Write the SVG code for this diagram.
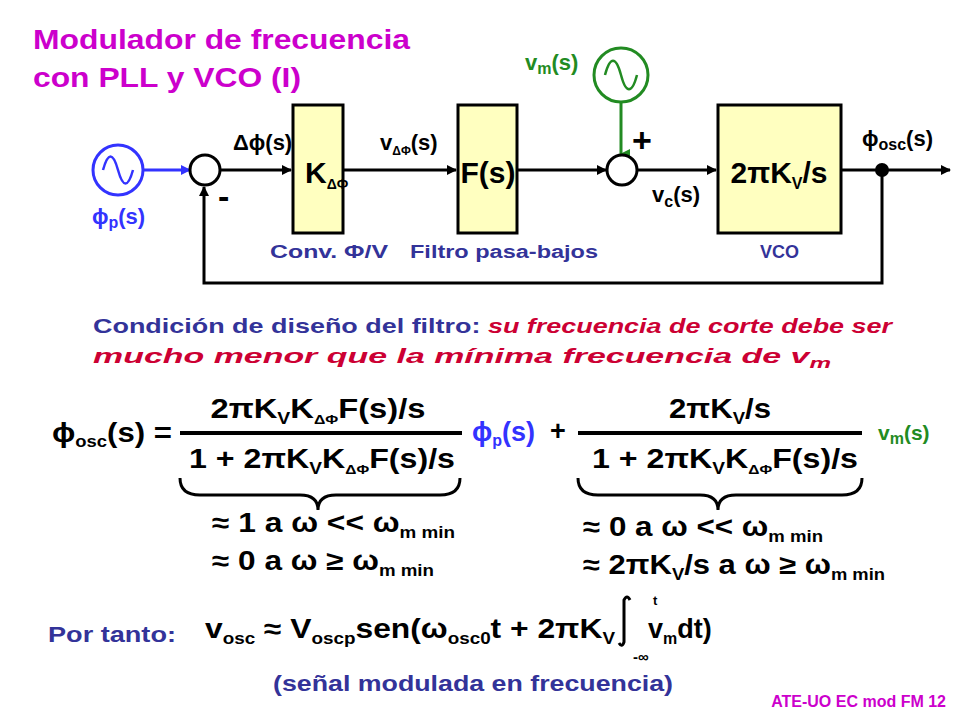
<svg xmlns="http://www.w3.org/2000/svg" width="960" height="720" viewBox="0 0 960 720">
<defs>
<marker id="ah" markerWidth="10" markerHeight="10" refX="9" refY="5" orient="auto" markerUnits="userSpaceOnUse"><path d="M0,0 L10,5 L0,10 z" fill="#000"/></marker>
<marker id="ahb" markerWidth="10" markerHeight="10" refX="9" refY="5" orient="auto" markerUnits="userSpaceOnUse"><path d="M0,0 L10,5 L0,10 z" fill="#3333FF"/></marker>
<marker id="ahg" markerWidth="10" markerHeight="10" refX="5" refY="9" orient="auto" markerUnits="userSpaceOnUse"><path d="M0,0 L10,0 L5,10 z" fill="#228B22"/></marker>
<style>
text{font-family:"Liberation Sans",Arial,sans-serif;font-weight:bold}
.box{fill:#FFFFC0;stroke:#000;stroke-width:3}
.sum{fill:#fff;stroke:#000;stroke-width:3}
.w{stroke:#000;stroke-width:3;fill:none}
.lb{font-size:22px;fill:#000}
.big{font-size:30px}
.cap{font-size:18px;fill:#333399}
.eq{font-size:27px;fill:#000}
.sub{font-size:16px}
.blue{fill:#3333FF}
.green{fill:#228B22}
.navy{fill:#333399}
</style>
</defs>
<rect width="960" height="720" fill="#fff"/>
<g id="title"><text x="33" y="49" font-size="28" fill="#CC00CC" textLength="377" lengthAdjust="spacingAndGlyphs">Modulador de frecuencia</text><text x="33" y="87" font-size="28" fill="#CC00CC" textLength="268" lengthAdjust="spacingAndGlyphs">con PLL y VCO (I)</text></g>
<g id="connectors">
<line x1="144" y1="170" x2="190" y2="170" stroke="#3333FF" stroke-width="3" marker-end="url(#ahb)"/>
<line class="w" x1="221" y1="170" x2="291" y2="170" marker-end="url(#ah)"/>
<line class="w" x1="344" y1="170" x2="456" y2="170" marker-end="url(#ah)"/>
<line class="w" x1="518" y1="170" x2="606" y2="170" marker-end="url(#ah)"/>
<line class="w" x1="637" y1="170" x2="716" y2="170" marker-end="url(#ah)"/>
<line class="w" x1="842" y1="170" x2="950" y2="170" marker-end="url(#ah)"/>
<polyline class="w" points="882,170 882,283 204,283 204,187" marker-end="url(#ah)"/>
<line x1="621" y1="103" x2="621" y2="154" stroke="#228B22" stroke-width="3" marker-end="url(#ahg)"/>
</g>
<g id="src-p"><circle cx="118" cy="170" r="25" fill="#fff" stroke="#3333FF" stroke-width="3"/><path d="M103,170 C108,152 113,152 118,170 S128,188 133,170" stroke="#3333FF" stroke-width="2.5" fill="none"/>
<text x="92" y="224" class="lb blue">ϕ<tspan class="sub" dy="4">p</tspan><tspan dy="-4">(s)</tspan></text></g>
<g id="sum1"><circle class="sum" cx="205" cy="170" r="15"/><text x="218" y="208" style="font-size:34px">-</text></g>
<g id="kbox"><rect class="box" x="293" y="105" width="50" height="128"/><text x="305" y="183" class="lb big">K<tspan style="font-size:14px" dy="6">ΔΦ</tspan></text>
<text x="270" y="258" class="cap" textLength="118" lengthAdjust="spacingAndGlyphs">Conv. Φ/V</text></g>
<g id="fbox"><rect class="box" x="458" y="105" width="59" height="128"/><text x="488" y="183" class="lb big" text-anchor="middle">F(s)</text>
<text x="410" y="258" class="cap" textLength="188" lengthAdjust="spacingAndGlyphs">Filtro pasa-bajos</text></g>
<g id="sum2"><circle class="sum" cx="622" cy="170" r="15"/><text x="632" y="152" style="font-size:34px">+</text></g>
<g id="src-m"><circle cx="621" cy="75" r="27" fill="#fff" stroke="#228B22" stroke-width="3"/><path d="M605,75 C610,56 616,56 621,75 S632,94 637,75" stroke="#228B22" stroke-width="2.5" fill="none"/>
<text x="525" y="70" class="lb green">v<tspan class="sub" dy="4">m</tspan><tspan dy="-4">(s)</tspan></text></g>
<g id="vco"><rect class="box" x="718" y="105" width="123" height="128"/><text x="779" y="183" class="lb big" text-anchor="middle">2πK<tspan class="sub" dy="6">V</tspan><tspan dy="-6">/s</tspan></text>
<text x="760" y="258" class="cap">VCO</text></g>
<g id="dot"><circle cx="882" cy="170" r="7" fill="#000"/></g>
<g id="labels">
<text x="233" y="150" class="lb">Δϕ(s)</text>
<text x="380" y="150" class="lb">v<tspan style="font-size:12px" dy="5">ΔΦ</tspan><tspan dy="-5">(s)</tspan></text>
<text x="652" y="202" class="lb">v<tspan class="sub" dy="5">c</tspan><tspan dy="-5">(s)</tspan></text>
<text x="862" y="146" class="lb">ϕ<tspan class="sub" dy="4">osc</tspan><tspan dy="-4">(s)</tspan></text>
</g>
<g id="cond"><text x="93" y="333" font-size="21" class="navy" textLength="799" lengthAdjust="spacingAndGlyphs">Condición de diseño del filtro:  <tspan fill="#CC0033" font-style="italic">su frecuencia de corte debe ser</tspan></text>
<text x="93" y="363" font-size="21" fill="#CC0033" font-style="italic" textLength="738" lengthAdjust="spacingAndGlyphs">mucho menor que la mínima frecuencia de v<tspan font-size="15" dy="5">m</tspan></text></g>
<g id="eq1">
<text x="52" y="442" class="eq" textLength="120" lengthAdjust="spacingAndGlyphs">ϕ<tspan class="sub" dy="5">osc</tspan><tspan dy="-5">(s) =</tspan></text>
<line x1="180" y1="433" x2="462" y2="433" stroke="#000" stroke-width="4"/>
<text x="318" y="418" class="eq" text-anchor="middle" textLength="215" lengthAdjust="spacingAndGlyphs">2πK<tspan class="sub" dy="6">V</tspan><tspan dy="-6">K</tspan><tspan style="font-size:13px" dy="6">ΔΦ</tspan><tspan dy="-6">F(s)/s</tspan></text>
<text x="322" y="468" class="eq" text-anchor="middle" textLength="266" lengthAdjust="spacingAndGlyphs">1 + 2πK<tspan class="sub" dy="6">V</tspan><tspan dy="-6">K</tspan><tspan style="font-size:13px" dy="6">ΔΦ</tspan><tspan dy="-6">F(s)/s</tspan></text>
<text x="472" y="441" class="eq blue">ϕ<tspan class="sub" dy="5">p</tspan><tspan dy="-5">(s)</tspan></text>
<text x="550" y="440" class="eq">+</text>
<line x1="578" y1="433" x2="862" y2="433" stroke="#000" stroke-width="4"/>
<text x="720" y="418" class="eq" text-anchor="middle" textLength="102" lengthAdjust="spacingAndGlyphs">2πK<tspan class="sub" dy="6">V</tspan><tspan dy="-6">/s</tspan></text>
<text x="725" y="468" class="eq" text-anchor="middle" textLength="266" lengthAdjust="spacingAndGlyphs">1 + 2πK<tspan class="sub" dy="6">V</tspan><tspan dy="-6">K</tspan><tspan style="font-size:13px" dy="6">ΔΦ</tspan><tspan dy="-6">F(s)/s</tspan></text>
<text x="878" y="440" class="green" style="font-size:21px">v<tspan class="sub" dy="4">m</tspan><tspan dy="-4">(s)</tspan></text>
<path d="M180,478 Q180,495 200,495 L300,495 Q318,495 318,510 Q318,495 336,495 L440,495 Q460,495 460,478" class="w" stroke-width="2.5"/>
<path d="M578,478 Q578,495 598,495 L700,495 Q718,495 718,510 Q718,495 736,495 L842,495 Q862,495 862,478" class="w" stroke-width="2.5"/>
<text x="212" y="532" class="eq" textLength="243" lengthAdjust="spacingAndGlyphs">≈ 1 a ω &lt;&lt; ω<tspan class="sub" dy="6">m min</tspan></text>
<text x="212" y="570" class="eq" textLength="222" lengthAdjust="spacingAndGlyphs">≈ 0 a ω ≥ ω<tspan class="sub" dy="6">m min</tspan></text>
<text x="583" y="536" class="eq" textLength="240" lengthAdjust="spacingAndGlyphs">≈ 0 a ω &lt;&lt; ω<tspan class="sub" dy="6">m min</tspan></text>
<text x="583" y="574" class="eq" textLength="302" lengthAdjust="spacingAndGlyphs">≈ 2πK<tspan class="sub" dy="6">V</tspan><tspan dy="-6">/s a ω ≥ ω</tspan><tspan class="sub" dy="6">m min</tspan></text>
</g>
<g id="result">
<text x="48" y="642" font-size="22" class="navy" textLength="128" lengthAdjust="spacingAndGlyphs">Por tanto:</text>
<text x="205" y="638" class="eq" textLength="410" lengthAdjust="spacingAndGlyphs">v<tspan class="sub" dy="6">osc</tspan><tspan dy="-6"> ≈ V</tspan><tspan class="sub" dy="6">oscp</tspan><tspan dy="-6">sen(ω</tspan><tspan class="sub" dy="6">osc0</tspan><tspan dy="-6">t + 2πK</tspan><tspan class="sub" dy="6">V</tspan></text>
<path d="M630,600 Q627,594 624,600 L624,642 Q622,648 619,643" class="w" stroke-width="2"/>
<text x="653" y="605" font-size="13">t</text>
<text x="633" y="662" font-size="15">-∞</text>
<text x="648" y="638" class="eq">v<tspan class="sub" dy="6">m</tspan><tspan dy="-6">dt)</tspan></text>
<text x="473" y="691" font-size="22" class="navy" text-anchor="middle" textLength="400" lengthAdjust="spacingAndGlyphs">(señal modulada en frecuencia)</text>
<text x="946" y="707" font-size="16" fill="#CC00CC" text-anchor="end">ATE-UO EC mod FM 12</text>
</g>
</svg>
